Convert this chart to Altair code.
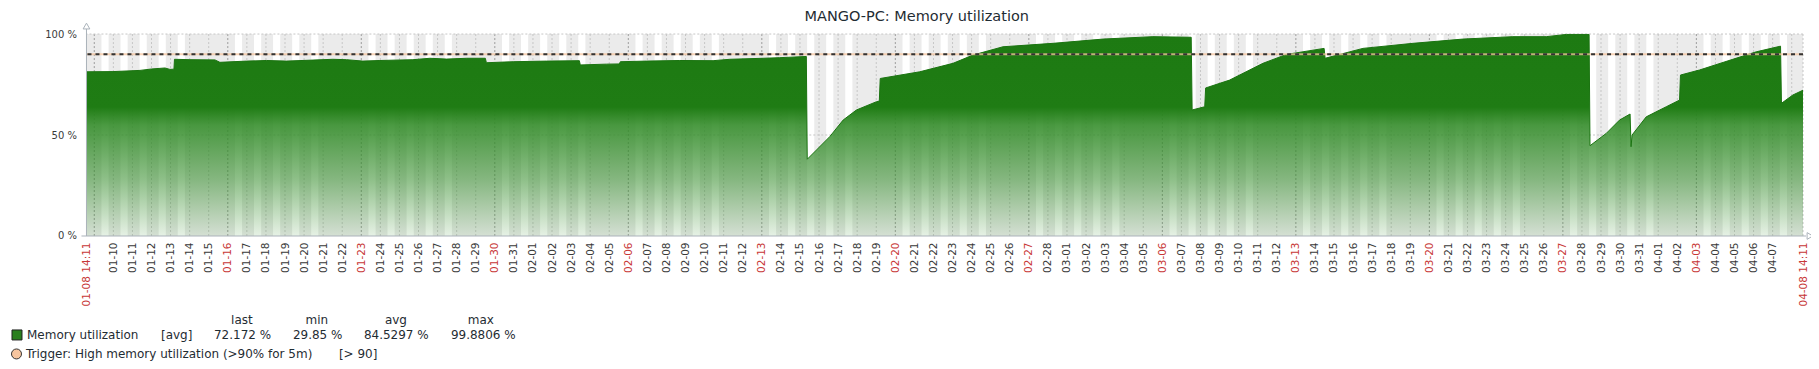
import altair as alt
import pandas as pd

# ---------------- data ----------------
TITLE = "MANGO-PC: Memory utilization"
START = "2023-01-08 14:11"
END = "2023-04-08 14:11"

times = [
    "2023-01-08 14:11", "2023-01-09 23:30", "2023-01-11 09:30", "2023-01-12 00:10",
    "2023-01-12 16:55", "2023-01-12 23:10", "2023-01-13 04:15", "2023-01-13 04:55",
    "2023-01-14 00:25", "2023-01-15 07:50", "2023-01-15 14:05", "2023-01-16 23:40",
    "2023-01-18 00:55", "2023-01-19 02:00", "2023-01-20 11:05", "2023-01-21 12:15",
    "2023-01-22 05:30", "2023-01-23 02:00", "2023-01-23 23:25", "2023-01-25 16:55",
    "2023-01-26 14:20", "2023-01-27 11:20", "2023-01-28 12:30", "2023-01-29 12:05",
    "2023-01-29 13:25", "2023-01-30 23:05", "2023-02-01 17:05", "2023-02-03 10:25",
    "2023-02-03 11:35", "2023-02-04 20:35", "2023-02-05 12:40", "2023-02-05 14:00",
    "2023-02-06 22:55", "2023-02-08 16:50", "2023-02-10 10:40", "2023-02-11 07:40",
    "2023-02-13 01:35", "2023-02-13 22:35", "2023-02-15 08:00", "2023-02-15 09:10",
    "2023-02-15 20:50", "2023-02-16 13:30", "2023-02-17 06:20", "2023-02-17 23:05",
    "2023-02-19 00:20", "2023-02-19 03:50", "2023-02-19 05:00", "2023-02-21 06:40",
    "2023-02-23 00:35", "2023-02-24 01:50", "2023-02-25 15:30", "2023-02-28 06:25",
    "2023-03-02 21:20", "2023-03-05 12:10", "2023-03-07 12:20", "2023-03-07 13:30",
    "2023-03-08 05:20", "2023-03-08 06:30", "2023-03-09 12:40", "2023-03-11 06:35",
    "2023-03-12 12:05", "2023-03-14 11:35", "2023-03-14 12:50", "2023-03-16 12:25",
    "2023-03-19 03:20", "2023-03-21 18:10", "2023-03-24 09:05", "2023-03-26 03:05",
    "2023-03-27 04:20", "2023-03-28 09:00", "2023-03-28 10:10", "2023-03-29 06:35",
    "2023-03-29 23:20", "2023-03-30 12:35", "2023-03-30 13:50", "2023-03-30 15:05",
    "2023-03-31 08:55", "2023-04-01 10:05", "2023-04-02 02:50", "2023-04-02 04:00",
    "2023-04-03 04:00", "2023-04-04 21:55", "2023-04-06 03:20", "2023-04-07 09:55",
    "2023-04-07 11:05", "2023-04-08 01:25", "2023-04-08 14:11",
]
values = [
    81.3, 81.4, 82.0, 82.7,
    83.2, 82.5, 82.6, 87.5,
    87.3, 87.2, 86.0, 86.6,
    86.9, 86.6, 87.1, 87.5,
    87.3, 86.6, 86.9, 87.3,
    88.0, 87.6, 88.0, 88.0,
    85.8, 86.3, 86.6, 86.8,
    84.7, 85.1, 85.2, 86.3,
    86.6, 86.9, 86.8, 87.5,
    88.0, 88.3, 88.9, 38.0,
    42.6, 49.2, 57.4, 62.4,
    66.5, 66.8, 78.0, 81.3,
    85.5, 89.6, 93.7, 95.4,
    97.5, 98.7, 98.4, 62.4,
    64.0, 73.3, 77.2, 85.5,
    89.9, 92.9, 88.0, 92.9,
    95.4, 97.5, 98.7, 98.7,
    99.8, 99.8, 44.7, 50.8,
    57.4, 60.4, 44.2, 50.0,
    59.0, 64.0, 67.3, 79.7,
    82.2, 87.5, 91.2, 94.0,
    65.7, 69.8, 72.2,
]

y_ticks = [0, 50, 100]
threshold = 90

legend_series = "Memory utilization"
legend_func = "[avg]"
legend_heads = ["last", "min", "avg", "max"]
legend_stats = ["72.172 %", "29.85 %", "84.5297 %", "99.8806 %"]
trigger_label = "Trigger: High memory utilization (>90% for 5m)"
trigger_cond = "[> 90]"

# ---------------- helpers ----------------
def ms(s):
    return int(pd.Timestamp(s).value // 10**6)

W, H = 1717, 202
FONT = "DejaVu Sans"
TXT = "#1f2c33"
AXC = "#aab2ba"

df = pd.DataFrame({"t": [ms(t) for t in times], "v": values})

days = pd.date_range("2023-01-08", "2023-04-08", freq="D")
work_df = pd.DataFrame({
    "t": [ms(d + pd.Timedelta(hours=9)) for d in days if d.weekday() < 5],
    "e": [ms(d + pd.Timedelta(hours=18)) for d in days if d.weekday() < 5],
})
mids = [d for d in days if pd.Timestamp(START) < d <= pd.Timestamp(END)]
grid_df = pd.DataFrame({"t": [ms(d) for d in mids] + [ms(END)],
                        "week": [d.weekday() == 0 for d in mids] + [False]})
tick_vals = [ms(START)] + [ms(d) for d in mids
                           if pd.Timestamp("2023-01-10") <= d <= pd.Timestamp("2023-04-07")] + [ms(END)]

x_scale = alt.Scale(type="utc", domain=[ms(START), ms(END)], nice=False)
y_scale = alt.Scale(domain=[0, 100], nice=False, zero=True)

x_axis = alt.Axis(
    values=tick_vals,
    labelExpr="utchours(datum.value) == 14 ? utcFormat(datum.value, '%m-%d %H:%M') : utcFormat(datum.value, '%m-%d')",
    labelAngle=270, labelFont=FONT, labelFontSize=10.5, labelPadding=6,
    labelColor={"condition": {"test": "utcday(datum.value) == 1 || utchours(datum.value) == 14",
                              "value": "#c83737"}, "value": "#3a3a3a"},
    ticks=False, domain=False, grid=False, title=None,
    labelOverlap=False, labelFlush=False, labelBound=False,
)
y_axis = alt.Axis(
    values=y_ticks, labelExpr="datum.value + ' %'", labelFont=FONT, labelFontSize=10,
    labelColor="#3a3a3a", labelPadding=10, ticks=False, domain=False, grid=False,
    title=None, labelFlush=False,
)

X = alt.X("t:T", scale=x_scale, axis=x_axis, title=None)
Y = alt.Y("v:Q", scale=y_scale, axis=y_axis, title=None)

one = pd.DataFrame({"a": [0]})

# ---------------- layers ----------------
work = alt.Chart(work_df).mark_rect(color="white").encode(
    x=X, x2="e:T", y=alt.value(0), y2=alt.value(H))

vgrid = alt.Chart(grid_df).mark_rule(strokeDash=[2, 2], strokeWidth=1).encode(
    x=X, y=alt.value(0), y2=alt.value(H),
    color=alt.condition("datum.week", alt.value("#9c9c9c"), alt.value("#c6c6c6")))

hgrid = alt.Chart(pd.DataFrame({"v": [50, 100]})).mark_rule(
    strokeDash=[2, 2], strokeWidth=1, color="#c6c6c6").encode(y=Y)

gradient = {
    "gradient": "linear", "x1": 0, "x2": 0, "y1": 0, "y2": 1,
    "stops": [
        {"offset": 0.0, "color": "rgba(29,122,18,1)"},
        {"offset": 0.36, "color": "rgba(31,124,20,1)"},
        {"offset": 0.45, "color": "rgba(50,140,40,0.88)"},
        {"offset": 0.72, "color": "rgba(50,140,40,0.55)"},
        {"offset": 1.0, "color": "rgba(50,140,40,0.12)"},
    ],
}

area = alt.Chart(df).mark_area(color=gradient, interpolate="linear").encode(x=X, y=Y)
line = alt.Chart(df).mark_line(color="#1a7310", strokeWidth=1, interpolate="linear").encode(x=X, y=Y)

thr_df = pd.DataFrame({"v": [threshold]})
thr1 = alt.Chart(thr_df).mark_rule(color="#f7c59f", strokeWidth=2, opacity=0.75).encode(y=Y)
thr2 = alt.Chart(thr_df).mark_rule(color="#333333", strokeWidth=2, strokeDash=[4, 4]).encode(y=Y)

yline = alt.Chart(one).mark_rule(color=AXC, strokeWidth=1).encode(
    x=alt.value(0), y=alt.value(-5), y2=alt.value(H))
xline = alt.Chart(one).mark_rule(color=AXC, strokeWidth=1).encode(
    y=alt.value(H), x=alt.value(-5), x2=alt.value(W + 3))
arr_up = alt.Chart(one).mark_point(shape="triangle-up", filled=False, size=45,
                                   color=AXC, strokeWidth=1, opacity=1).encode(
    x=alt.value(0), y=alt.value(-8))
arr_right = alt.Chart(one).mark_point(shape="triangle-right", filled=False, size=45,
                                      color=AXC, strokeWidth=1, opacity=1).encode(
    x=alt.value(W + 7), y=alt.value(H))


def txt(s, x, y, align="left", size=12, color=TXT):
    return alt.Chart(one).mark_text(text=s, align=align, baseline="middle", font=FONT,
                                    fontSize=size, color=color).encode(
        x=alt.value(x), y=alt.value(y))


title = txt(TITLE, 830.5, -17, align="center", size=14.5)

head_x = [155.5, 230.5, 309.5, 394.5]
stat_x = [127.5, 206.5, 277.5, 364.5]
legend_layers = [txt(h, x, 286.5, align="center") for h, x in zip(legend_heads, head_x)]
legend_layers += [txt(s, x, 301) for s, x in zip(legend_stats, stat_x)]
legend_layers += [
    txt(legend_series, -59.5, 301),
    txt(legend_func, 74.5, 301),
    txt(trigger_label, -60.5, 320),
    txt(trigger_cond, 252.5, 320),
]
sq = alt.Chart(one).mark_point(shape="square", filled=True, size=100, color="#2a7f1e",
                               stroke="#222222", strokeWidth=1, opacity=1).encode(
    x=alt.value(-69.5), y=alt.value(301))
circ = alt.Chart(one).mark_point(shape="circle", filled=True, size=100, color="#f7c59f",
                                 stroke="#333333", strokeWidth=1, opacity=1).encode(
    x=alt.value(-70), y=alt.value(320))

chart = alt.layer(
    work, vgrid, hgrid, area, line, thr1, thr2, yline, xline, arr_up, arr_right,
    title, sq, circ, *legend_layers,
).properties(
    width=W, height=H, background="white",
    padding={"left": 78.5, "top": 26, "right": 8, "bottom": 133},
    autosize=alt.AutoSizeParams(type="none"),
).configure_view(fill="#ebebeb", stroke=None)

chart.save("out.html", embed_options={"renderer": "svg", "actions": False})
